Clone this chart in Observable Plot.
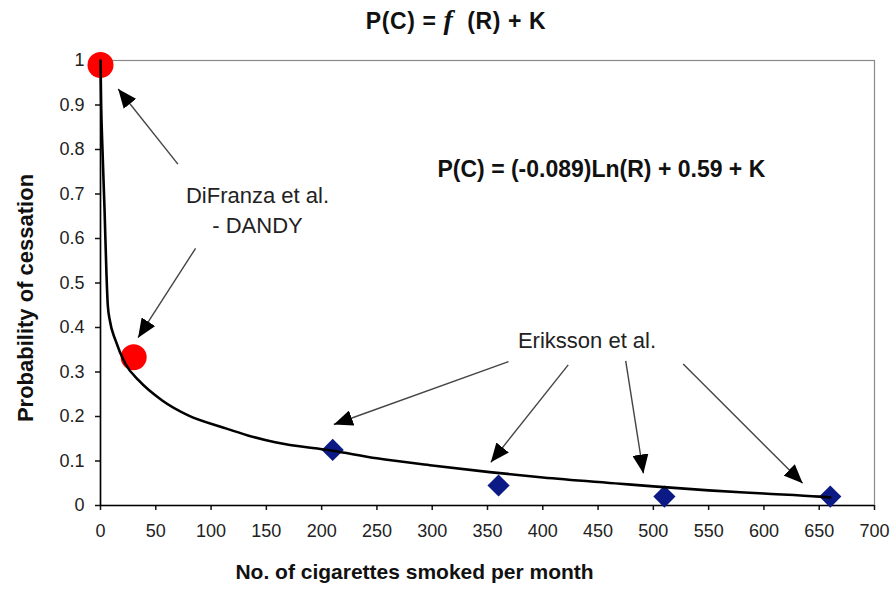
<!DOCTYPE html>
<html>
<head>
<meta charset="utf-8">
<script src="https://cdn.jsdelivr.net/npm/d3@7"></script>
<script src="https://cdn.jsdelivr.net/npm/@observablehq/plot@0.6"></script>
<style>
  html, body { margin: 0; padding: 0; background: #fff; }
  #wrap { width: 896px; height: 604px; position: relative; }
  #title { height: 40px; line-height: 40px; text-align: center; padding-left: 16px; box-sizing: border-box;
           font-family: "Liberation Sans", Arial, sans-serif; font-weight: bold; font-size: 23px; color: #111;
           letter-spacing: 0.6px; }
  #title i { font-family: "Liberation Serif", "Times New Roman", serif; font-size: 28px; }
</style>
</head>
<body>
<div id="wrap">
  <div id="title">P(C) = <i>f</i>&nbsp; (R) + K</div>
  <div id="chart"></div>
</div>
<script>
// ---- data ----
const difranzaX = [0, 30];
const difranzaY = [0.99, 0.333];
const erikssonX = [210, 360, 510, 660];
const erikssonY = [0.125, 0.045, 0.02, 0.02];
const curveX = [0, 0.6, 1.5, 3.6, 5.4, 6.6, 8.5, 13.6, 22.6, 34.6, 55.8, 79.8, 110, 134, 158, 210, 250, 300, 352, 400, 470, 500, 550, 600, 650, 660];
const curveY = [1.0, 0.9, 0.82, 0.67, 0.52, 0.45, 0.415, 0.371, 0.318, 0.281, 0.236, 0.202, 0.176, 0.157, 0.142, 0.123, 0.106, 0.09, 0.075, 0.063, 0.049, 0.043, 0.034, 0.027, 0.02, 0.018];
const xTicks = [0, 50, 100, 150, 200, 250, 300, 350, 400, 450, 500, 550, 600, 650, 700];
const yTicks = [0, 0.1, 0.2, 0.3, 0.4, 0.5, 0.6, 0.7, 0.8, 0.9, 1];
// annotation arrows (data coordinates): start -> tip
const arrowX1 = [70, 86, 369, 423, 475, 527];
const arrowY1 = [0.767, 0.578, 0.3235, 0.316, 0.325, 0.318];
const arrowX2 = [16, 34, 211, 353, 491, 635];
const arrowY2 = [0.936, 0.377, 0.182, 0.097, 0.072, 0.05];
const labelText = ["P(C) = (-0.089)Ln(R) + 0.59 + K", "DiFranza et al.\n- DANDY", "Eriksson et al."];
const labelX = [453, 142, 440];
const labelY = [0.755, 0.667, 0.375];

// ---- build tables ----
const difranza = difranzaX.map((x, i) => ({x, y: difranzaY[i]}));
const eriksson = erikssonX.map((x, i) => ({x, y: erikssonY[i]}));
const curve = curveX.map((x, i) => ({x, y: curveY[i]}));
const arrows = arrowX1.map((x1, i) => ({x1, y1: arrowY1[i], x2: arrowX2[i], y2: arrowY2[i]}));
const labels = labelText.map((t, i) => ({t, x: labelX[i], y: labelY[i]}));

function headMarker(color, context) {
  const m = d3.create("svg:marker")
    .attr("viewBox", "-19 -8 19 16")
    .attr("markerWidth", 19)
    .attr("markerHeight", 16)
    .attr("markerUnits", "userSpaceOnUse")
    .attr("orient", "auto")
    .attr("refX", 0)
    .attr("refY", 0);
  m.append("path").attr("d", "M-19,-8L0,0L-19,8Z").attr("fill", "#000").attr("stroke", "none");
  return m.node();
}

const FONT = "'Liberation Sans', Arial, sans-serif";

const chart = Plot.plot({
  width: 896,
  height: 564,
  marginLeft: 100,
  marginRight: 22,
  marginTop: 20,
  marginBottom: 99,
  style: {fontFamily: FONT, color: "#111", background: "#fff"},
  x: {domain: [0, 700]},
  y: {domain: [0, 1]},
  marks: [
    Plot.frame({stroke: "#8a8a8a", strokeWidth: 1.2}),
    Plot.axisX({ticks: xTicks, tickSize: 5, tickPadding: 14, fontSize: 18, label: null, strokeWidth: 1.5, fill: "#222"}),
    Plot.axisY({ticks: yTicks, tickSize: 5, tickPadding: 11, fontSize: 18, label: null, strokeWidth: 1.5, fill: "#222",
                tickFormat: d => d3.format("~g")(d)}),
    Plot.ruleX([0], {stroke: "#000", strokeWidth: 1.6}),
    Plot.ruleY([0], {stroke: "#000", strokeWidth: 1.6}),
    Plot.dot(difranza, {x: "x", y: "y", r: 13, fill: "#ff0000", stroke: "none"}),
    Plot.dot(eriksson, {x: "x", y: "y", r: 10, symbol: "diamond2", fill: "#0b1a84", stroke: "none"}),
    Plot.line(curve, {x: "x", y: "y", stroke: "#000", strokeWidth: 2.6, curve: "monotone-x"}),
    Plot.link(arrows, {x1: "x1", y1: "y1", x2: "x2", y2: "y2", stroke: "#444", strokeWidth: 1.4, markerEnd: headMarker}),
    Plot.text([labels[0]], {x: "x", y: "y", text: "t", fontSize: 23, fontWeight: "bold", fill: "#111"}),
    Plot.text(labels.slice(1), {x: "x", y: "y", text: "t", fontSize: 22, lineHeight: 1.36, fill: "#222"}),
    Plot.text(["Probability of cessation"], {frameAnchor: "left", textAnchor: "middle", dx: -75, dy: 15, rotate: -90, fontSize: 22, fontWeight: "bold", fill: "#111"}),
    Plot.text(["No. of cigarettes smoked per month"], {frameAnchor: "bottom", dx: -73, dy: 73, fontSize: 21, fontWeight: "bold", fill: "#111"})
  ]
});
document.getElementById("chart").appendChild(chart);
</script>
</body>
</html>
